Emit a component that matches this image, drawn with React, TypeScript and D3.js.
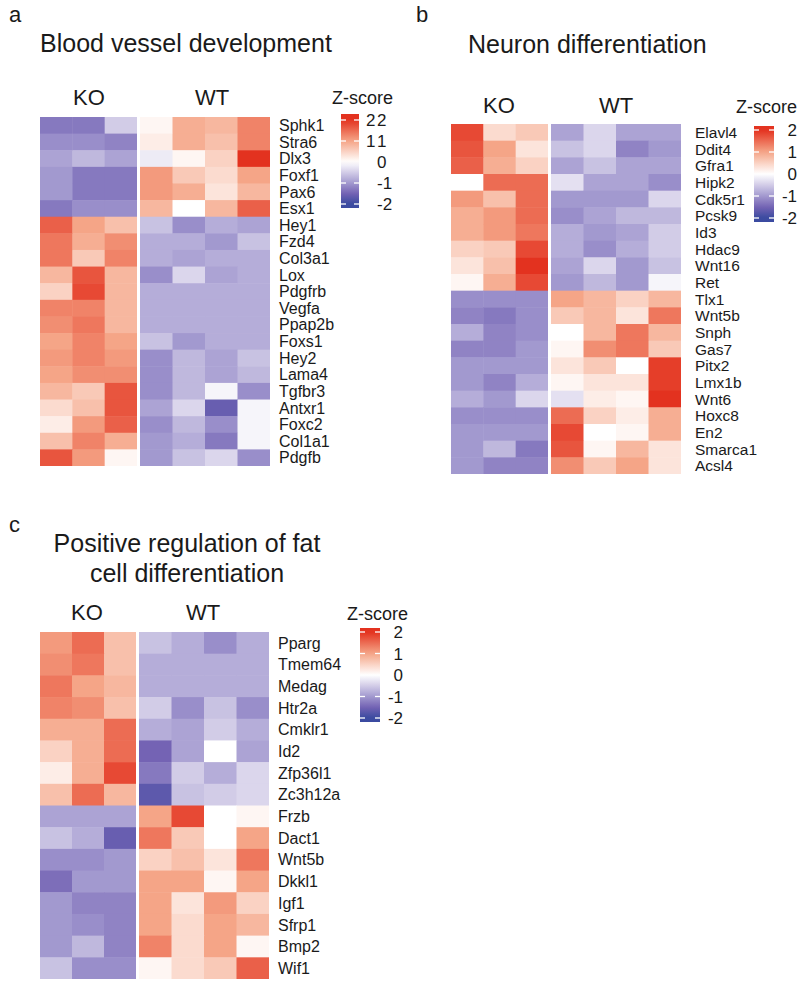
import React from "react";
import * as d3 from "d3";

const koCols = ["KO1", "KO2", "KO3"];
const wtCols = ["WT1", "WT2", "WT3", "WT4"];
const zTicks = [2, 1, 0, -1, -2];

const genesA = ["Sphk1", "Stra6", "Dlx3", "Foxf1", "Pax6", "Esx1", "Hey1", "Fzd4", "Col3a1", "Lox", "Pdgfrb", "Vegfa", "Ppap2b", "Foxs1", "Hey2", "Lama4", "Tgfbr3", "Antxr1", "Foxc2", "Col1a1", "Pdgfb"];
const valuesA = [
  [-1.3, -1.3, -0.5, 0.1, 0.9, 0.8, 1.3],
  [-1.1, -1.1, -1.2, 0.2, 0.9, 0.7, 1.3],
  [-0.9, -0.7, -0.9, -0.2, 0.1, 0.5, 2.0],
  [-1.0, -1.3, -1.3, 1.1, 0.6, 0.4, 1.0],
  [-1.0, -1.3, -1.3, 1.1, 0.9, 0.3, 0.8],
  [-1.3, -1.1, -1.1, 0.8, 0.0, 0.8, 1.6],
  [1.6, 1.0, 0.7, -0.6, -1.1, -0.8, -0.9],
  [1.4, 0.9, 1.2, -0.8, -0.8, -1.0, -0.6],
  [1.4, 0.6, 1.3, -0.8, -0.9, -0.8, -0.8],
  [0.8, 1.7, 0.8, -1.1, -0.4, -0.9, -0.8],
  [0.5, 1.8, 0.8, -0.8, -0.8, -0.8, -0.8],
  [1.3, 1.3, 0.8, -0.8, -0.8, -0.8, -0.8],
  [1.2, 1.4, 0.8, -0.8, -0.8, -0.8, -0.8],
  [1.0, 1.3, 1.0, -0.6, -1.0, -0.8, -0.8],
  [1.1, 1.3, 1.1, -1.1, -0.7, -0.9, -0.6],
  [1.0, 1.2, 1.2, -1.1, -0.7, -0.9, -0.7],
  [0.8, 0.6, 1.7, -1.1, -0.7, -0.1, -1.1],
  [0.4, 0.7, 1.7, -0.9, -0.4, -1.6, -0.1],
  [0.2, 1.1, 1.6, -1.1, -0.7, -1.1, -0.1],
  [0.7, 1.3, 0.9, -1.0, -0.8, -1.3, -0.1],
  [1.7, 1.1, 0.1, -1.0, -0.6, -0.4, -1.1],
];

const genesB = ["Elavl4", "Ddit4", "Gfra1", "Hipk2", "Cdk5r1", "Pcsk9", "Id3", "Hdac9", "Wnt16", "Ret", "Tlx1", "Wnt5b", "Snph", "Gas7", "Pitx2", "Lmx1b", "Wnt6", "Hoxc8", "En2", "Smarca1", "Acsl4"];
const valuesB = [
  [1.8, 0.4, 0.6, -0.9, -0.4, -0.9, -0.9],
  [1.7, 1.0, 0.3, -0.6, -0.4, -1.2, -1.0],
  [1.6, 0.9, 0.5, -0.9, -0.6, -0.9, -0.9],
  [0.0, 1.5, 1.5, -0.3, -0.9, -0.9, -1.1],
  [1.1, 0.7, 1.5, -1.0, -1.0, -1.0, -0.4],
  [0.9, 1.1, 1.5, -1.1, -0.9, -0.7, -0.7],
  [0.9, 1.1, 1.4, -0.8, -1.0, -0.9, -0.5],
  [0.5, 0.6, 1.8, -0.8, -1.1, -0.8, -0.5],
  [0.3, 0.7, 2.0, -0.9, -0.4, -1.0, -0.6],
  [0.1, 0.9, 1.8, -1.0, -0.7, -1.0, -0.1],
  [-1.1, -1.1, -1.1, 1.0, 0.8, 0.5, 0.8],
  [-1.2, -1.3, -1.1, 0.6, 0.8, 0.3, 1.4],
  [-0.8, -1.2, -1.1, 0.0, 0.8, 1.4, 0.8],
  [-1.2, -1.2, -1.0, 0.1, 1.2, 1.4, 0.6],
  [-1.0, -1.0, -1.0, 0.3, 0.6, 0.0, 1.9],
  [-1.0, -1.2, -0.8, 0.1, 0.3, 0.3, 1.9],
  [-0.8, -1.0, -0.4, -0.3, 0.2, 0.1, 2.1],
  [-1.1, -1.1, -1.1, 1.5, 0.5, 0.2, 0.9],
  [-1.0, -1.0, -1.0, 1.8, 0.0, 0.1, 0.9],
  [-1.0, -0.7, -1.3, 1.7, 0.1, 0.8, 0.3],
  [-1.0, -1.2, -1.2, 1.2, 0.6, 1.0, 0.3],
];

const genesC = ["Pparg", "Tmem64", "Medag", "Htr2a", "Cmklr1", "Id2", "Zfp36l1", "Zc3h12a", "Frzb", "Dact1", "Wnt5b", "Dkkl1", "Igf1", "Sfrp1", "Bmp2", "Wif1"];
const valuesC = [
  [1.1, 1.5, 0.7, -0.6, -0.8, -1.1, -0.8],
  [1.2, 1.4, 0.7, -0.8, -0.8, -0.8, -0.8],
  [1.4, 1.0, 0.8, -0.8, -0.8, -0.8, -0.8],
  [1.3, 1.2, 0.7, -0.5, -1.1, -0.6, -1.1],
  [0.9, 0.9, 1.5, -0.8, -0.9, -0.5, -0.8],
  [0.5, 0.9, 1.5, -1.5, -0.9, 0.0, -0.9],
  [0.2, 0.9, 1.8, -1.3, -0.5, -0.8, -0.4],
  [0.7, 1.5, 0.8, -1.7, -0.6, -0.5, -0.4],
  [-0.9, -0.9, -0.9, 1.0, 1.8, 0.0, 0.1],
  [-0.6, -0.8, -1.6, 1.4, 0.6, 0.0, 1.0],
  [-1.1, -1.1, -1.0, 0.5, 0.7, 0.3, 1.4],
  [-1.4, -1.0, -1.0, 1.0, 1.0, 0.1, 1.0],
  [-1.0, -1.2, -1.2, 1.0, 0.3, 1.1, 0.5],
  [-1.0, -1.1, -1.2, 1.0, 0.4, 1.0, 0.8],
  [-1.0, -0.7, -1.2, 1.3, 0.4, 1.0, 0.1],
  [-0.6, -1.1, -1.1, 0.1, 0.4, 0.6, 1.6],
];

const FONT = "'Liberation Sans', Arial, Helvetica, sans-serif";

const color = d3
  .scaleLinear<string>()
  .domain([-2, -1.5, -1, -0.5, 0, 1, 2])
  .range(["#3a4aa0", "#7463b4", "#a299cf", "#d2cce7", "#ffffff", "#f5a587", "#e3321f"])
  .interpolate(d3.interpolateRgb)
  .clamp(true);

type HMProps = {
  genes: string[];
  values: number[][];
  x0: number;
  koW: number;
  gap: number;
  wtW: number;
  y0: number;
  y1: number;
  labelX: number;
  labelSize: number;
};

function Heatmap({ genes, values, x0, koW, gap, wtW, y0, y1, labelX, labelSize }: HMProps) {
  const xKO = d3.scaleBand<string>().domain(koCols).range([x0, x0 + koW]);
  const xWT = d3.scaleBand<string>().domain(wtCols).range([x0 + koW + gap, x0 + koW + gap + wtW]);
  const y = d3.scaleBand<string>().domain(genes).range([y0, y1]);
  const cells: JSX.Element[] = [];
  genes.forEach((g, i) => {
    values[i].forEach((v, j) => {
      const isKO = j < koCols.length;
      const col = isKO ? koCols[j] : wtCols[j - koCols.length];
      const sc = isKO ? xKO : xWT;
      const last = isKO ? j === koCols.length - 1 : j === values[i].length - 1;
      cells.push(
        <rect
          key={g + col}
          x={sc(col)!}
          y={y(g)!}
          width={sc.bandwidth() + (last ? 0 : 0.5)}
          height={y.bandwidth() + (i === genes.length - 1 ? 0 : 0.5)}
          fill={color(v)}
        />
      );
    });
  });
  return (
    <g>
      {cells}
      {genes.map((g) => (
        <text key={g} x={labelX} y={y(g)! + y.bandwidth() / 2} dy="0.36em" fontSize={labelSize} fill="#1a1a1a">
          {g}
        </text>
      ))}
    </g>
  );
}

type CBProps = {
  x: number;
  w: number;
  top: number;
  bottom: number;
  zeroY: number;
  step: number;
  labelX: number;
  anchor: "start" | "end";
  id: string;
  dupX?: number;
};

function ColorBar({ x, w, top, bottom, zeroY, step, labelX, anchor, id, dupX }: CBProps) {
  const yz = d3.scaleLinear().domain([0, 1]).range([zeroY, zeroY - step]);
  const stops = d3.range(0, 21).map((i) => {
    const yy = top + ((bottom - top) * i) / 20;
    return { off: i / 20, c: color(yz.invert(yy)) };
  });
  return (
    <g>
      <defs>
        <linearGradient id={id} x1="0" y1="0" x2="0" y2="1">
          {stops.map((s, i) => (
            <stop key={i} offset={s.off} stopColor={s.c} />
          ))}
        </linearGradient>
      </defs>
      <rect x={x} y={top} width={w} height={bottom - top} fill={`url(#${id})`} />
      {zTicks.map((t) => (
        <g key={t}>
          {t !== 0 && (
            <>
              <line x1={x} x2={x + 5} y1={yz(t)} y2={yz(t)} stroke="#fff" strokeWidth={1.3} />
              <line x1={x + w - 5} x2={x + w} y1={yz(t)} y2={yz(t)} stroke="#fff" strokeWidth={1.3} />
            </>
          )}
          <text x={labelX} y={yz(t)} dy="0.36em" fontSize={17} textAnchor={anchor} fill="#1a1a1a">
            {t < 0 ? `-${Math.abs(t)}` : `${t}`}
          </text>
          {dupX !== undefined && t > 0 && (
            <text x={dupX} y={yz(t)} dy="0.36em" fontSize={17} fill="#1a1a1a">
              {t}
            </text>
          )}
        </g>
      ))}
    </g>
  );
}

export default function App() {
  return (
    <svg width={800} height={983} style={{ display: "block", position: "absolute", left: 0, top: 0 }} fontFamily={FONT}>
      <rect width={800} height={983} fill="#fff" />
      {/* Panel a */}
      <text x={9} y={22} fontSize={22} fill="#1a1a1a">a</text>
      <text x={40} y={52} fontSize={25} fill="#1a1a1a">Blood vessel development</text>
      <text x={89} y={105} fontSize={22} textAnchor="middle" fill="#1a1a1a">KO</text>
      <text x={212} y={105} fontSize={22} textAnchor="middle" fill="#1a1a1a">WT</text>
      <text x={332} y={104} fontSize={18} fill="#1a1a1a">Z-score</text>
      <Heatmap genes={genesA} values={valuesA} x0={40} koW={97} gap={3} wtW={130} y0={117} y1={466} labelX={279} labelSize={16} />
      <ColorBar id="cbA" x={341} w={18} top={114} bottom={208} zeroY={162} step={21} labelX={377} anchor="start" dupX={366} />

      {/* Panel b */}
      <text x={416} y={22} fontSize={22} fill="#1a1a1a">b</text>
      <text x={468} y={53} fontSize={25} fill="#1a1a1a">Neuron differentiation</text>
      <text x={499} y={113} fontSize={22} textAnchor="middle" fill="#1a1a1a">KO</text>
      <text x={616} y={113} fontSize={22} textAnchor="middle" fill="#1a1a1a">WT</text>
      <text x={736} y={113} fontSize={18} fill="#1a1a1a">Z-score</text>
      <Heatmap genes={genesB} values={valuesB} x0={451} koW={97} gap={3} wtW={130} y0={124} y1={474} labelX={695} labelSize={15.5} />
      <ColorBar id="cbB" x={754} w={20} top={126} bottom={222} zeroY={174} step={22} labelX={797} anchor="end" />

      {/* Panel c */}
      <text x={9} y={532} fontSize={22} fill="#1a1a1a">c</text>
      <text x={187} y={552} fontSize={25} textAnchor="middle" fill="#1a1a1a">Positive regulation of fat</text>
      <text x={187} y={582} fontSize={25} textAnchor="middle" fill="#1a1a1a">cell differentiation</text>
      <text x={87} y={620} fontSize={22} textAnchor="middle" fill="#1a1a1a">KO</text>
      <text x={203} y={620} fontSize={22} textAnchor="middle" fill="#1a1a1a">WT</text>
      <text x={347} y={620} fontSize={18} fill="#1a1a1a">Z-score</text>
      <Heatmap genes={genesC} values={valuesC} x0={40} koW={96} gap={3} wtW={130} y0={632} y1={979} labelX={278} labelSize={16} />
      <ColorBar id="cbC" x={360} w={20} top={628} bottom={722} zeroY={675} step={21.5} labelX={403} anchor="end" />
    </svg>
  );
}
